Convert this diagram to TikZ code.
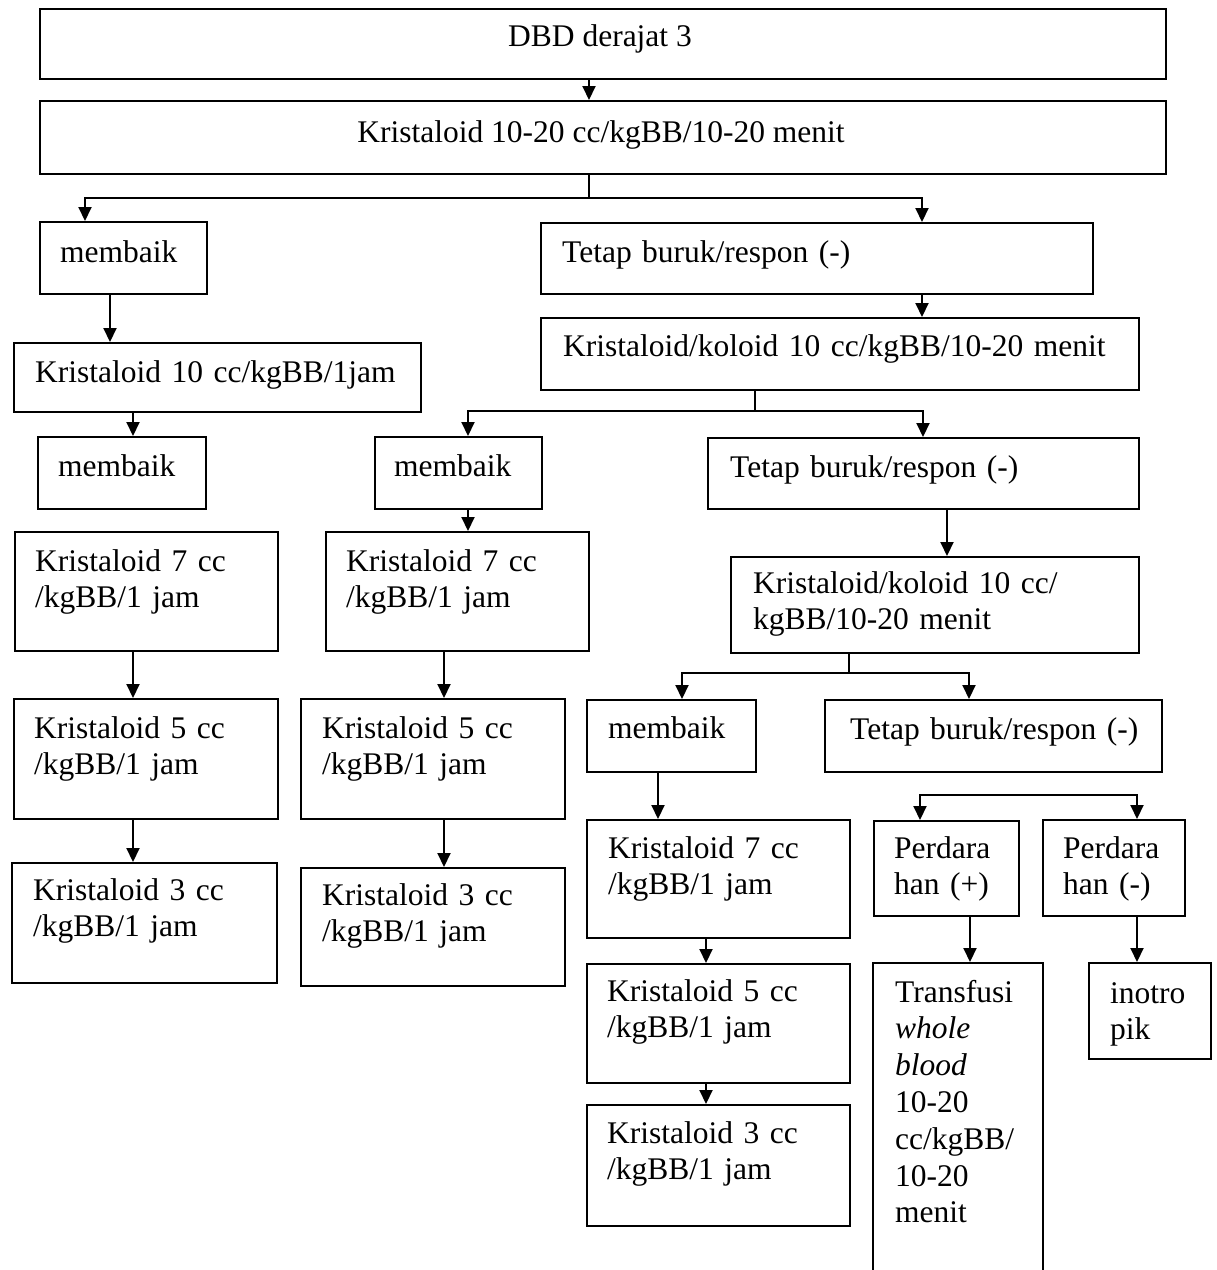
\documentclass[tikz,border=0pt]{standalone}
\usepackage{fontspec}
\setmainfont{Liberation Serif}
\usetikzlibrary{arrows.meta,calc}
\newcommand\mybox[5]{\node[box,minimum width={(#4)-(#2)},minimum height={(#5)-(#3)}] (#1) at (#2,#3) {};}
\begin{document}
\begin{tikzpicture}[x=1pt,y=-1pt,
  box/.style={draw=black, line width=2.2pt, inner sep=0pt, anchor=north west, rectangle},
  txt/.style={anchor=base west, inner sep=0pt, align=left, text width=620pt, font=\fontsize{31.5}{36.8}\selectfont},
  ctxt/.style={anchor=base, inner sep=0pt, font=\fontsize{31.5}{36.8}\selectfont},
  arr/.style={line width=2pt, -{Triangle[length=14pt,width=13pt]}},
  ln/.style={line width=2pt}]
\fill[white] (0,0) rectangle (1217,1270);
\useasboundingbox (0,0) rectangle (1217,1270);
% boxes
\mybox{dbd}{39}{8}{1165}{78}
\mybox{kA}{39}{100}{1165}{173}
\mybox{mb1}{39}{221}{206}{293}
\mybox{tb1}{540}{222}{1092}{293}
\mybox{k10}{13}{342}{420}{411}
\mybox{kk1}{540}{317}{1138}{389}
\mybox{mb2}{37}{436}{205}{508}
\mybox{mb3}{374}{436}{541}{508}
\mybox{tb2}{707}{437}{1138}{508}
\mybox{k7a}{14}{531}{277}{650}
\mybox{k7b}{325}{531}{588}{650}
\mybox{kk2}{730}{556}{1138}{652}
\mybox{k5a}{13}{698}{277}{818}
\mybox{k5b}{300}{698}{564}{818}
\mybox{mb4}{586}{699}{755}{771}
\mybox{tb3}{824}{699}{1161}{771}
\mybox{k3a}{11}{862}{276}{982}
\mybox{k3b}{300}{867}{564}{985}
\mybox{k7c}{586}{819}{849}{937}
\mybox{pp}{873}{820}{1018}{915}
\mybox{pm}{1042}{819}{1184}{915}
\mybox{k5c}{586}{963}{849}{1082}
\mybox{tr}{872}{962}{1042}{1300}
\mybox{ino}{1088}{962}{1210}{1058}
\mybox{k3c}{586}{1104}{849}{1225}
% texts
\node[ctxt] (t-dbd) at (600,46) {DBD derajat 3};
\node[ctxt] (t-kA) at (601,142) {Kristaloid 10-20 cc/kgBB/10-20 menit};
\node[txt] (t-mb1) at (60,262) {membaik};
\node[txt] (t-tb1) at (562,262) {Tetap buruk/respon (-)};
\node[txt] (t-k10) at (35,382) {Kristaloid 10 cc/kgBB/1jam};
\node[txt] (t-kk1) at (563,356) {Kristaloid/koloid 10 cc/kgBB/10-20 menit};
\node[txt] (t-mb2) at (58,476) {membaik};
\node[txt] (t-mb3) at (394,476) {membaik};
\node[txt] (t-tb2) at (730,477) {Tetap buruk/respon (-)};
\node[txt] (t-k7a) at (35,571) {Kristaloid 7 cc\\/kgBB/1 jam};
\node[txt] (t-k7b) at (346,571) {Kristaloid 7 cc\\/kgBB/1 jam};
\node[txt] (t-kk2) at (753,593) {Kristaloid/koloid 10 cc/\\kgBB/10-20 menit};
\node[txt] (t-k5a) at (34,738) {Kristaloid 5 cc\\/kgBB/1 jam};
\node[txt] (t-k5b) at (322,738) {Kristaloid 5 cc\\/kgBB/1 jam};
\node[txt] (t-mb4) at (608,738) {membaik};
\node[txt] (t-tb3) at (850,739) {Tetap buruk/respon (-)};
\node[txt] (t-k3a) at (33,900) {Kristaloid 3 cc\\/kgBB/1 jam};
\node[txt] (t-k3b) at (322,905) {Kristaloid 3 cc\\/kgBB/1 jam};
\node[txt] (t-k7c) at (608,858) {Kristaloid 7 cc\\/kgBB/1 jam};
\node[txt] (t-pp) at (894,858) {Perdara\\han (+)};
\node[txt] (t-pm) at (1063,858) {Perdara\\han (-)};
\node[txt] (t-k5c) at (607,1001) {Kristaloid 5 cc\\/kgBB/1 jam};
\node[txt] (t-tr) at (895,1002) {Transfusi\\\textit{whole}\\\textit{blood}\\10-20\\cc/kgBB/\\10-20\\menit};
\node[txt] (t-ino) at (1110,1003) {inotro\\pik};
\node[txt] (t-k3c) at (607,1143) {Kristaloid 3 cc\\/kgBB/1 jam};
% junctions and columns
\coordinate (j1) at (589,198); \coordinate (j1l) at (85,198); \coordinate (j1r) at (922,198);
\coordinate (x110) at (110,0); \coordinate (x133) at (133,0); \coordinate (x444) at (444,0);
\coordinate (j2) at (755,411); \coordinate (j2l) at (468,411); \coordinate (j2r) at (923,411);
\coordinate (x947) at (947,0);
\coordinate (j3) at (849,673); \coordinate (j3l) at (682,673); \coordinate (j3r) at (969,673);
\coordinate (x658) at (658,0); \coordinate (x706) at (706,0); \coordinate (x970) at (970,0);
\coordinate (j4l) at (920,795); \coordinate (j4r) at (1137,795);
% connectors
\draw[arr] (dbd.south -| j1) -- (kA.north -| j1);
\draw[ln] (kA.south -| j1) -- (j1);
\draw[arr] (j1) -- (j1l) -- (mb1.north -| j1l);
\draw[arr] (j1) -- (j1r) -- (tb1.north -| j1r);
\draw[arr] (mb1.south -| x110) -- (k10.north -| x110);
\draw[arr] (tb1.south -| j1r) -- (kk1.north -| j1r);
\draw[arr] (k10.south -| x133) -- (mb2.north -| x133);
\draw[ln] (kk1.south -| j2) -- (j2);
\draw[arr] (j2) -- (j2l) -- (mb3.north -| j2l);
\draw[arr] (j2) -- (j2r) -- (tb2.north -| j2r);
\draw[arr] (mb3.south -| j2l) -- (k7b.north -| j2l);
\draw[arr] (tb2.south -| x947) -- (kk2.north -| x947);
\draw[arr] (k7a.south -| x133) -- (k5a.north -| x133);
\draw[arr] (k5a.south -| x133) -- (k3a.north -| x133);
\draw[arr] (k7b.south -| x444) -- (k5b.north -| x444);
\draw[arr] (k5b.south -| x444) -- (k3b.north -| x444);
\draw[ln] (kk2.south -| j3) -- (j3);
\draw[arr] (j3) -- (j3l) -- (mb4.north -| j3l);
\draw[arr] (j3) -- (j3r) -- (tb3.north -| j3r);
\draw[arr] (mb4.south -| x658) -- (k7c.north -| x658);
\draw[arr] (j4r) -- (j4l) -- (pp.north -| j4l);
\draw[arr] (j4l) -- (j4r) -- (pm.north -| j4r);
\draw[arr] (k7c.south -| x706) -- (k5c.north -| x706);
\draw[arr] (k5c.south -| x706) -- (k3c.north -| x706);
\draw[arr] (pp.south -| x970) -- (tr.north -| x970);
\draw[arr] (pm.south -| j4r) -- (ino.north -| j4r);
\end{tikzpicture}
\end{document}
